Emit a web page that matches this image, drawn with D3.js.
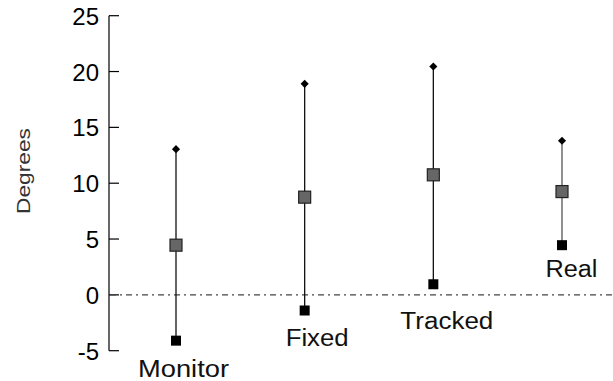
<!DOCTYPE html>
<html>
<head>
<meta charset="utf-8">
<script src="https://cdn.jsdelivr.net/npm/d3@7"></script>
<style>
  html, body { margin: 0; padding: 0; background: #fff; }
  svg { display: block; font-family: "Liberation Sans", Arial, sans-serif; }
</style>
</head>
<body>
<svg id="chart" width="613" height="381"></svg>
<script>
// Viewing conditions and their angular error summary (degrees)
const conditions = ["Monitor", "Fixed", "Tracked", "Real"];
const maxValues  = [13.05, 18.9, 20.45, 13.8];
const meanValues = [4.45, 8.75, 10.75, 9.25];
const minValues  = [-4.1, -1.4, 0.95, 4.45];
const yTicks     = [-5, 0, 5, 10, 15, 20, 25];

// Label placement relative to each condition's lower marker
const labelDx = [7.5, 12.5, 13.5, 9.5];
const labelDy = [36, 35, 45, 32];
const labelWidth = [91, 63, 93, 52];

const svg = d3.select("#chart");

const x = d3.scalePoint().domain(conditions).range([176, 562]);
const y = d3.scaleLinear().domain([-5, 25]).range([350.7, 15.7]);

// Y axis with inward ticks
const axis = svg.append("g").attr("transform", "translate(109,0)");
axis.append("line")
  .attr("x1", 0).attr("x2", 0)
  .attr("y1", y(-5)).attr("y2", y(25))
  .attr("stroke", "#000").attr("stroke-width", 1.2);
axis.selectAll("line.tick").data(yTicks).join("line")
  .attr("class", "tick")
  .attr("x1", 0).attr("x2", 10)
  .attr("y1", d => y(d)).attr("y2", d => y(d))
  .attr("stroke", "#000").attr("stroke-width", 1.2);
axis.selectAll("text").data(yTicks).join("text")
  .attr("x", -10)
  .attr("y", d => y(d) + 9)
  .attr("text-anchor", "end")
  .attr("font-size", 24)
  .attr("fill", "#000")
  .text(d => d);

// Axis title
svg.append("text")
  .attr("transform", `translate(30,171) rotate(-90)`)
  .attr("text-anchor", "middle")
  .attr("font-size", 19)
  .attr("textLength", 86)
  .attr("lengthAdjust", "spacingAndGlyphs")
  .attr("fill", "#333")
  .text("Degrees");

// Zero reference line
svg.append("line")
  .attr("x1", 110).attr("x2", 613)
  .attr("y1", y(0)).attr("y2", y(0))
  .attr("stroke", "#444").attr("stroke-width", 1.2)
  .attr("stroke-dasharray", "6,4,2,4");

const g = svg.append("g");
const rows = conditions.map((c, i) => ({
  c, i, max: maxValues[i], mean: meanValues[i], min: minValues[i]
}));

// Range lines
g.selectAll("line.range").data(rows).join("line")
  .attr("class", "range")
  .attr("x1", d => x(d.c)).attr("x2", d => x(d.c))
  .attr("y1", d => y(d.max)).attr("y2", d => y(d.min))
  .attr("stroke", d => d.c === "Real" ? "#555" : "#111")
  .attr("stroke-width", 1.3);

// Maximum markers (diamonds)
g.selectAll("path.max").data(rows).join("path")
  .attr("class", "max")
  .attr("d", d3.symbol(d3.symbolDiamond2, 42))
  .attr("transform", d => `translate(${x(d.c)},${y(d.max)})`)
  .attr("fill", "#000");

// Minimum markers (black squares)
const minSize = 10;
g.selectAll("rect.min").data(rows).join("rect")
  .attr("class", "min")
  .attr("x", d => x(d.c) - minSize / 2)
  .attr("y", d => y(d.min) - minSize / 2)
  .attr("width", minSize).attr("height", minSize)
  .attr("fill", "#000");

// Mean markers (grey squares)
const meanSize = 12;
g.selectAll("rect.mean").data(rows).join("rect")
  .attr("class", "mean")
  .attr("x", d => x(d.c) - meanSize / 2)
  .attr("y", d => y(d.mean) - meanSize / 2)
  .attr("width", meanSize).attr("height", meanSize)
  .attr("fill", "#666")
  .attr("stroke", "#222").attr("stroke-width", 1.2);

// Condition labels
g.selectAll("text.label").data(rows).join("text")
  .attr("class", "label")
  .attr("x", d => x(d.c) + labelDx[d.i])
  .attr("y", d => y(d.min) + labelDy[d.i])
  .attr("text-anchor", "middle")
  .attr("font-size", 23)
  .attr("textLength", d => labelWidth[d.i])
  .attr("lengthAdjust", "spacingAndGlyphs")
  .attr("fill", "#111")
  .text(d => d.c);
</script>
</body>
</html>
